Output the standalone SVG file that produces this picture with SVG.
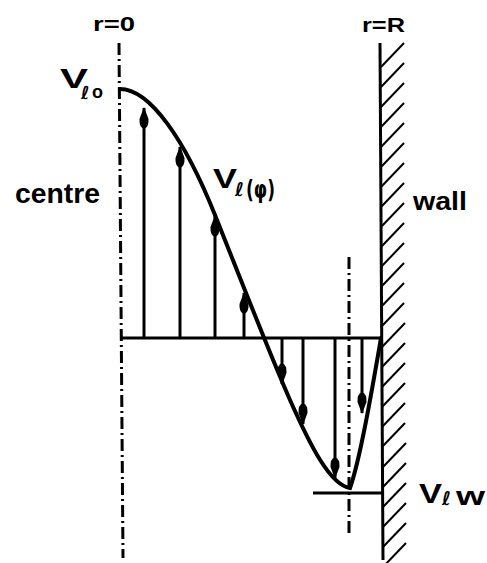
<svg xmlns="http://www.w3.org/2000/svg" width="487" height="563" viewBox="0 0 487 563">
<style>
.lbl{font-family:"Liberation Sans",Arial,sans-serif;font-weight:bold;fill:#000}
.sym{font-family:"DejaVu Sans","Liberation Sans",sans-serif;font-weight:bold;fill:#000}
.axis{stroke:#000;stroke-width:3;fill:none;stroke-dasharray:12 4 2 4}
.ln{stroke:#000;stroke-width:3;fill:none}
.hatch{stroke:#000;stroke-width:2;fill:none}
.curve{stroke:#000;stroke-width:4;fill:none;stroke-linecap:round}
</style>
<defs>
<marker id="ah" viewBox="0 0 22 10" refX="21" refY="5" markerWidth="22" markerHeight="10" markerUnits="userSpaceOnUse" orient="auto">
<path d="M22,5 L10,0.5 Q2,0 0,5 Q2,10 10,9.5 Z" fill="#000"/>
</marker>
</defs>
<rect width="487" height="563" fill="#fff"/>
<g id="centre-axis">
<line class="axis" x1="119" y1="43" x2="123" y2="558"/>
</g>
<g id="wall">
<line class="ln" x1="380" y1="43" x2="383" y2="560"/>
<g class="hatch">
<line x1="381" y1="67" x2="404" y2="43"/>
<line x1="381" y1="87" x2="404" y2="63"/>
<line x1="381" y1="107" x2="404" y2="83"/>
<line x1="381" y1="127" x2="404" y2="103"/>
<line x1="381" y1="147" x2="404" y2="123"/>
<line x1="381" y1="167" x2="404" y2="143"/>
<line x1="381" y1="187" x2="404" y2="163"/>
<line x1="381" y1="207" x2="404" y2="183"/>
<line x1="381" y1="227" x2="404" y2="203"/>
<line x1="381" y1="247" x2="404" y2="223"/>
<line x1="381" y1="267" x2="404" y2="243"/>
<line x1="381" y1="287" x2="404" y2="263"/>
<line x1="381" y1="307" x2="404" y2="283"/>
<line x1="381" y1="327" x2="404" y2="303"/>
<line x1="382" y1="347" x2="405" y2="323"/>
<line x1="382" y1="367" x2="405" y2="343"/>
<line x1="382" y1="387" x2="405" y2="363"/>
<line x1="382" y1="407" x2="405" y2="383"/>
<line x1="382" y1="427" x2="405" y2="403"/>
<line x1="382" y1="447" x2="405" y2="423"/>
<line x1="383" y1="467" x2="406" y2="443"/>
<line x1="383" y1="487" x2="406" y2="463"/>
<line x1="383" y1="507" x2="406" y2="483"/>
<line x1="383" y1="527" x2="406" y2="503"/>
<line x1="383" y1="547" x2="406" y2="523"/>
<line x1="383" y1="567" x2="406" y2="543"/>
</g>
</g>
<g id="wall-axis">
<line class="axis" x1="349" y1="257" x2="349" y2="537"/>
</g>
<g id="baseline">
<line class="ln" x1="120" y1="338" x2="381" y2="338"/>
<line class="ln" x1="313" y1="493" x2="382" y2="493"/>
</g>
<g id="connectors" class="ln">
<line x1="144" y1="338" x2="144" y2="108" marker-end="url(#ah)"/>
<line x1="180" y1="338" x2="180" y2="147" marker-end="url(#ah)"/>
<line x1="215" y1="338" x2="215" y2="216" marker-end="url(#ah)"/>
<line x1="244" y1="338" x2="244" y2="293" marker-end="url(#ah)"/>
<line x1="282" y1="338" x2="282" y2="384" marker-end="url(#ah)"/>
<line x1="303" y1="338" x2="303" y2="424" marker-end="url(#ah)"/>
<line x1="335" y1="338" x2="335" y2="478" marker-end="url(#ah)"/>
<line x1="362" y1="338" x2="362" y2="413" marker-end="url(#ah)"/>
</g>
<g id="profile">
<path class="curve" d="M120,89 C150,89 185,140 215,215 C235,265 270,355 290,400 C310,445 330,485 350,488 C360,460 372,390 381,338"/>
</g>
<g id="labels">
<text class="lbl" x="93" y="31" font-size="21" textLength="42" lengthAdjust="spacingAndGlyphs">r=0</text>
<text class="lbl" x="362" y="32" font-size="21" textLength="43" lengthAdjust="spacingAndGlyphs">r=R</text>
<text class="lbl" x="15" y="203" font-size="28" textLength="85" lengthAdjust="spacingAndGlyphs">centre</text>
<text class="lbl" x="413" y="210" font-size="26" textLength="54" lengthAdjust="spacingAndGlyphs">wall</text>
<text class="lbl" x="60" y="88" font-size="28" textLength="28" lengthAdjust="spacingAndGlyphs">V</text>
<text class="sym" x="81" y="99" font-size="18">ℓ</text>
<text class="lbl" x="92" y="98" font-size="18" textLength="11" lengthAdjust="spacingAndGlyphs">o</text>
<text class="lbl" x="213" y="188" font-size="28" textLength="24" lengthAdjust="spacingAndGlyphs">V</text>
<text class="sym" x="235" y="196" font-size="19">ℓ</text>
<text class="sym" x="246" y="198" font-size="25" textLength="29" lengthAdjust="spacingAndGlyphs">(φ)</text>
<text class="lbl" x="419" y="503" font-size="28" textLength="23" lengthAdjust="spacingAndGlyphs">V</text>
<text class="sym" x="442" y="505" font-size="19">ℓ</text>
<text class="lbl" x="456" y="505" font-size="26" textLength="29" lengthAdjust="spacingAndGlyphs">w</text>
</g>
</svg>
